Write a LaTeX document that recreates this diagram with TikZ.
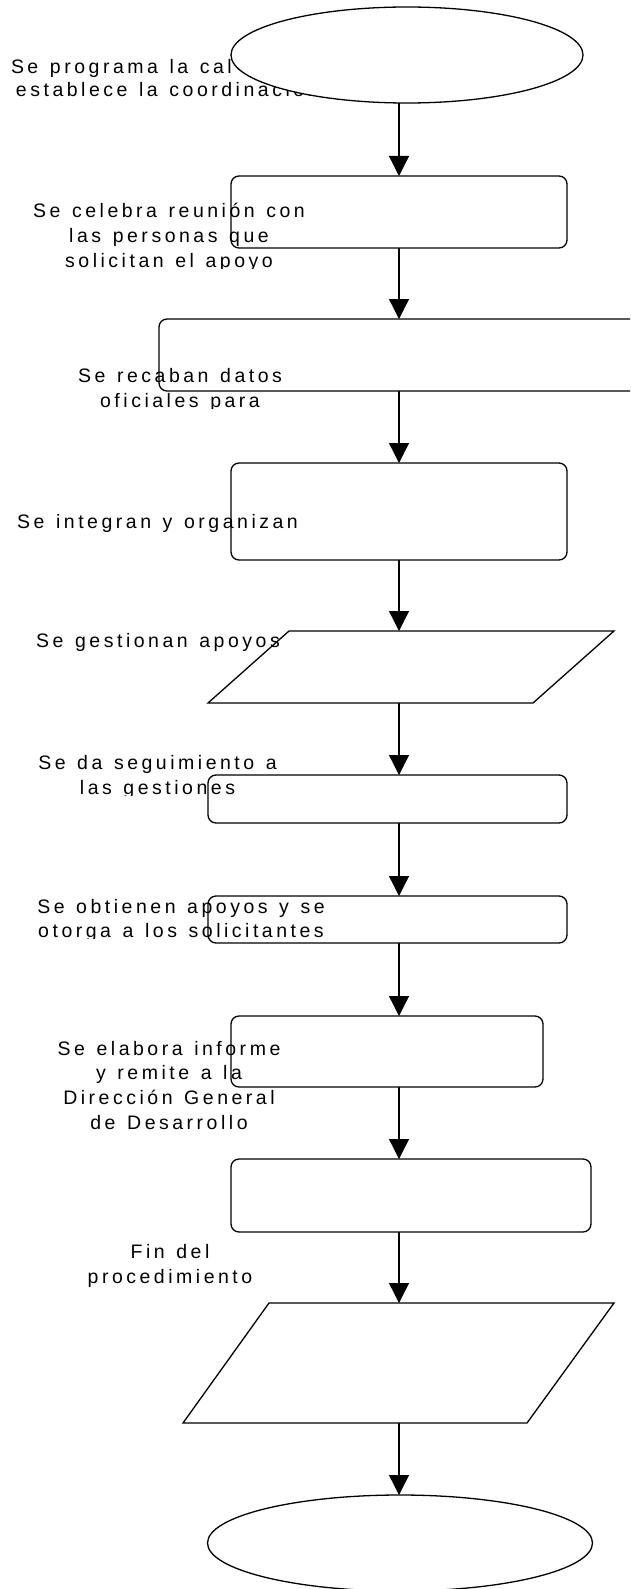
\documentclass[tikz,border=0pt]{standalone}
\usepackage{fontspec}
\setmainfont{Liberation Sans}[LetterSpace=18, WordSpace=1.3]
\usetikzlibrary{arrows.meta,shapes.geometric}

\begin{document}
\begin{tikzpicture}[x=1pt,y=-1pt,
  every node/.style={inner sep=0pt, outer sep=0pt},
  lbl/.style={font=\fontsize{19.5}{24.5}\selectfont, anchor=base},
  lblw/.style={font=\fontsize{19.5}{24.5}\selectfont, anchor=base west},
  stepbox/.style={draw, line width=1.3pt, rounded corners=8pt, rectangle},
  termin/.style={draw, line width=1.3pt, ellipse, fill=white},
  flow/.style={line width=1.3pt, -{Triangle[length=20pt,width=20pt]}},
  iobox/.style={draw, line width=1.3pt, line join=miter}
]
% page frame
\path[use as bounding box] (0,0) rectangle (630,1589);
\clip (0,0) rectangle (630,1589);

% column of the connectors
\coordinate (ax) at (399,0);

% opening label, partly hidden by the start terminal
\node[lblw] (l1a) at (11,74) {Se programa la cal};
\node[lblw] (l1b) at (16,97) {establece la coordinación};

% start terminal
\node[termin, minimum width=352pt, minimum height=96pt] (e1) at (407,55) {};

% process boxes
\node[stepbox, minimum width=336pt, minimum height=72pt] (b2) at (399,212) {};
\node[stepbox, minimum width=541pt, minimum height=72pt] (b3) at (429.5,355) {};
\node[stepbox, minimum width=336pt, minimum height=97pt] (b4) at (399,511.5) {};
\node[stepbox, minimum width=359pt, minimum height=48pt] (b6) at (387.5,799) {};
\node[stepbox, minimum width=359pt, minimum height=47pt] (b7) at (387.5,919.5) {};
\node[stepbox, minimum width=312pt, minimum height=71pt] (b8) at (387,1051.5) {};
\node[stepbox, minimum width=360pt, minimum height=73pt] (b9) at (411,1195.5) {};

% input/output parallelograms
\path[iobox] (289,631) -- (614,631) -- (533,703) -- (208,703) -- cycle;
\coordinate (p5top) at (399,631);
\coordinate (p5bot) at (399,703);
\path[iobox] (269,1303) -- (614,1303) -- (527,1423) -- (183,1423) -- cycle;
\coordinate (p10top) at (399,1303);
\coordinate (p10bot) at (399,1423);

% end terminal
\node[termin, minimum width=385pt, minimum height=96pt] (e11) at (400,1543) {};

% connectors
\draw[flow] (e1.south -| ax) -- (b2.north -| ax);
\draw[flow] (b2.south -| ax) -- (b3.north -| ax);
\draw[flow] (b3.south -| ax) -- (b4.north -| ax);
\draw[flow] (b4.south -| ax) -- (p5top);
\draw[flow] (p5bot) -- (b6.north -| ax);
\draw[flow] (b6.south -| ax) -- (b7.north -| ax);
\draw[flow] (b7.south -| ax) -- (b8.north -| ax);
\draw[flow] (b8.south -| ax) -- (b9.north -| ax);
\draw[flow] (b9.south -| ax) -- (p10top);
\draw[flow] (p10bot) -- (e11.north -| ax);

% step labels
\begin{scope}
  \clip (0,150) rectangle (630,268);
  \node[lbl] (l2a) at (169,218) {Se celebra reunión con};
  \node[lbl] (l2b) at (169,242.5) {las personas que};
  \node[lbl] (l2c) at (169,267) {solicitan el apoyo};
\end{scope}
\begin{scope}
  \clip (0,350) rectangle (630,408);
  \node[lbl] (l3a) at (180,382) {Se recaban datos};
  \node[lbl] (l3b) at (180,407) {oficiales para};
\end{scope}
\node[lbl] (l4) at (157.5,528) {Se integran y organizan};
\node[lbl] (l5) at (158,647) {Se gestionan apoyos};
\begin{scope}
  \clip (0,740) rectangle (630,795);
  \node[lbl] (l6a) at (157.5,769) {Se da seguimiento a};
  \node[lbl] (l6b) at (157.5,794) {las gestiones};
\end{scope}
\begin{scope}
  \clip (0,880) rectangle (630,938.5);
  \node[lbl] (l7a) at (181,913) {Se obtienen apoyos y se};
  \node[lbl] (l7b) at (181,937) {otorga a los solicitantes};
\end{scope}
\node[lbl] (l8a) at (169,1055) {Se elabora informe};
\node[lbl] (l8b) at (169,1079) {y remite a la};
\node[lbl] (l8c) at (169,1104) {Dirección General};
\node[lbl] (l8d) at (169,1129) {de Desarrollo};
\node[lbl] (l9a) at (170,1258.5) {Fin del};
\node[lbl] (l9b) at (170,1283) {procedimiento};
\end{tikzpicture}
\end{document}
